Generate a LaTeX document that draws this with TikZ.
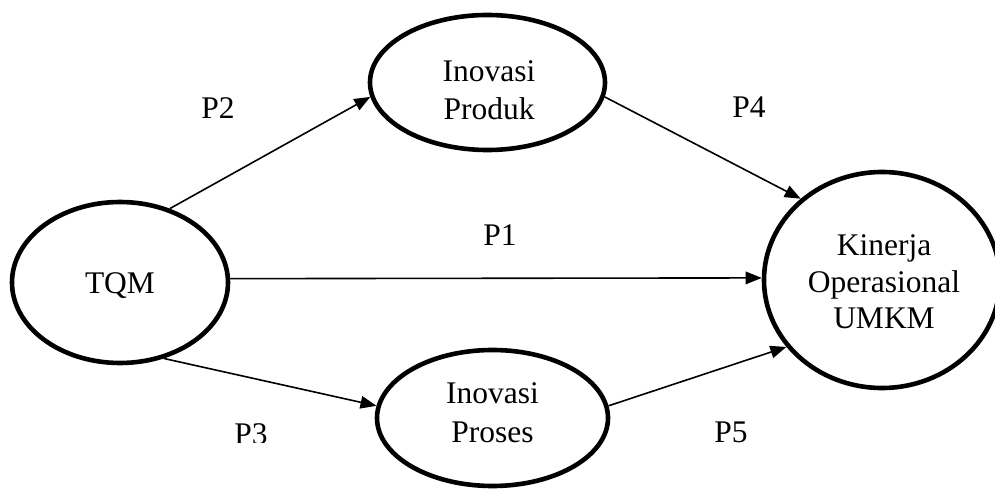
\documentclass[tikz,border=0pt]{standalone}
\usepackage{fontspec}
\setmainfont{Liberation Serif}
\usetikzlibrary{shapes.geometric,arrows.meta}

\tikzset{
  construct/.style={draw=black, line width=4.6pt, ellipse, inner sep=0pt},
  path/.style={draw=black, line width=1.6pt, -{Triangle[length=16pt,width=12.5pt]}},
  txt/.style={anchor=base, inner sep=0pt, font=\fontsize{31.5}{37.5}\selectfont},
}

\begin{document}
\begin{tikzpicture}[x=1pt,y=-1pt]
  \useasboundingbox (0,0) rectangle (995,489);
  \begin{scope}
    \clip (0,0) rectangle (995,489);

    % latent constructs
    \node[construct, minimum width=216pt, minimum height=161pt] (tqm)  at (120,282.5) {};
    \node[construct, minimum width=235pt, minimum height=135pt] (prod) at (487.5,82.5) {};
    \node[construct, minimum width=231pt, minimum height=136pt] (pros) at (492.5,418) {};
    \node[construct, minimum width=236pt, minimum height=216pt] (kin)  at (882,280) {};

    % construct names
    \node[txt] (tqmA)  at (120,293) {TQM};
    \node[txt] (prodA) at (489,82)  {Inovasi};
    \node[txt] (prodB) at (489,120) {Produk};
    \node[txt] (prosA) at (492.5,403) {Inovasi};
    \node[txt] (prosB) at (492.5,442) {Proses};
    \node[txt] (kinA)  at (884,255) {Kinerja};
    \node[txt] (kinB)  at (884,292) {Operasional};
    \node[txt] (kinC)  at (884,328) {UMKM};

    % hypothesised paths
    \draw[path] (tqm.56.5)  -- (prod.187.3);
    \draw[path] (tqm.2)     -- (kin.179);
    \draw[path] (tqm.300)   -- (pros.174.7);
    \draw[path] (prod.353.1) -- (kin.135.7);
    \draw[path] (pros.6.3)  -- (kin.215.6);

    % path labels
    \node[txt] (p1) at (500,245) {P1};
    \node[txt] (p2) at (218,119) {P2};
    \node[txt] (p4) at (749,118) {P4};
    \node[txt] (p5) at (731,442) {P5};
    \begin{scope}
      \clip (0,0) rectangle (995,442);
      \node[txt] (p3) at (251,444) {P3};
    \end{scope}
  \end{scope}
\end{tikzpicture}
\end{document}
